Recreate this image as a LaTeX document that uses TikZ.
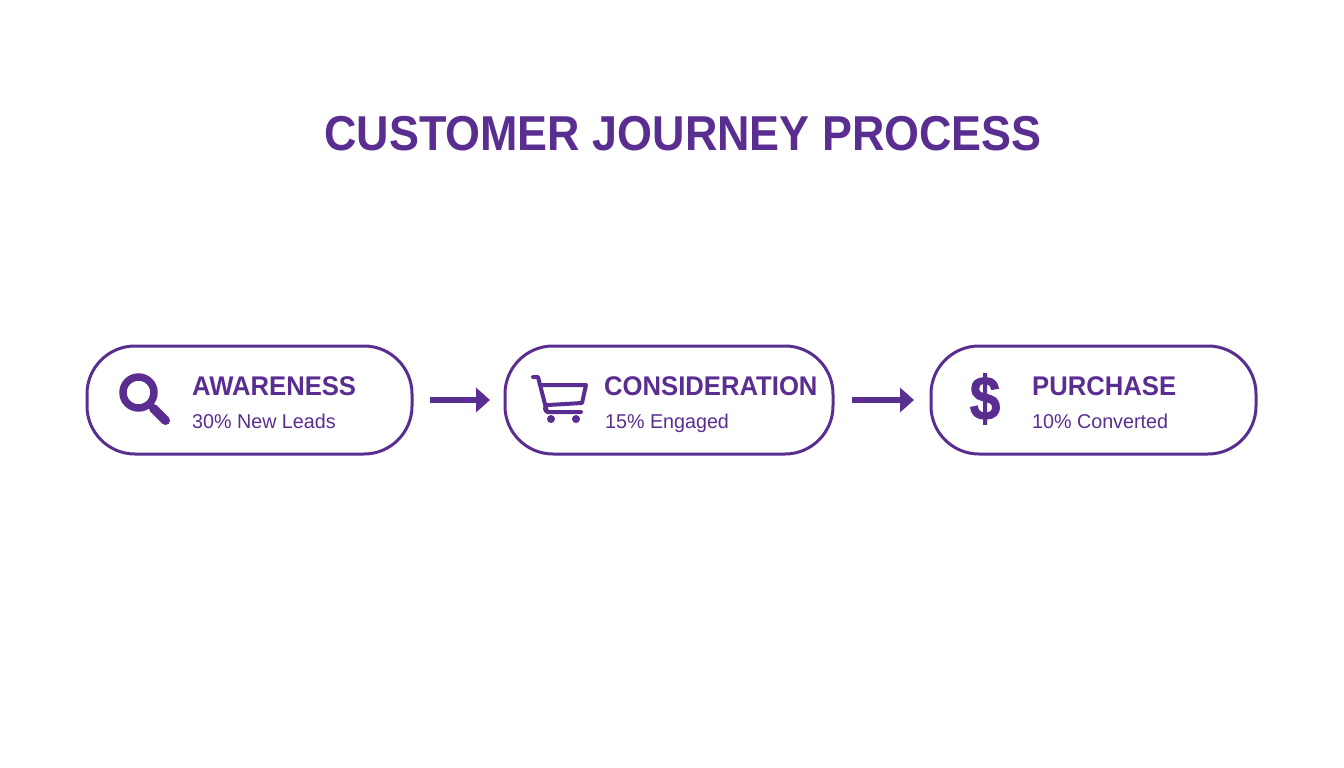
\documentclass[tikz,border=0pt]{standalone}
\usepackage{fontspec}
\setmainfont{Liberation Sans}
\newfontfamily\titlefont[FakeStretch=0.916]{Liberation Sans}
\newfontfamily\namefont[FakeStretch=0.95]{Liberation Sans}
\newfontfamily\ratefont[FakeStretch=0.985]{Liberation Sans}
\newfontfamily\dollarfont[FakeBold=1.5, FakeStretch=0.88]{Liberation Sans Bold}
\usepackage{xcolor}
\usetikzlibrary{positioning,arrows.meta}
\definecolor{journeypurple}{HTML}{5A2D91}
\tikzset{
  stagebox/.style={draw=journeypurple, line width=3pt, rounded corners=48pt, minimum width=325pt, minimum height=108pt, outer sep=0pt},
  stagename/.style={anchor=base west, inner sep=0pt, text=journeypurple, font=\fontsize{27}{27}\namefont\bfseries},
  stagerate/.style={anchor=base west, inner sep=0pt, text=journeypurple, font=\fontsize{20}{20}\ratefont},
  flowarrow/.style={draw=journeypurple, line width=6pt, -{Triangle[length=14pt,width=24pt]}},
  iconline/.style={draw=journeypurple, line cap=round, line join=round}
}
\begin{document}
\begin{tikzpicture}[x=1pt, y=-1pt]
	\useasboundingbox (0,0) rectangle (1344,768);
	\node [anchor=base, inner sep=0pt, text=journeypurple, font=\fontsize{49}{49}\titlefont\bfseries] (title) at (683,150) {CUSTOMER JOURNEY PROCESS};
	% the three stages
	\node [stagebox] (awareness) at (249.5,400) {};
	\node [stagebox, minimum width=328pt] (consideration) at (669,400) {};
	\node [stagebox] (purchase) at (1093.5,400) {};
	\draw [flowarrow, shorten <=18pt, shorten >=15pt] (awareness) -- (consideration);
	\draw [flowarrow, shorten <=19pt, shorten >=17pt] (consideration) -- (purchase);
	\node [stagename] (awarenessname) at (192,395) {AWARENESS};
	\node [stagerate] (awarenessrate) at (192,428) {30\% New Leads};
	\node [stagename] (considerationname) at (604,395) {CONSIDERATION};
	\node [stagerate] (considerationrate) at (605,428) {15\% Engaged};
	\node [stagename] (purchasename) at (1032,395) {PURCHASE};
	\node [stagerate] (purchaserate) at (1032,428) {10\% Converted};
	% magnifier
	\draw [iconline, line width=7.5pt] (138.5,392.5) circle (15.5);
	\draw [iconline, line width=9pt] (153.5,408.5) -- (165.5,420.5);
	% cart
	\draw [iconline, line width=4pt] (533,377) -- (538,377) -- (547,412) -- (581,412);
	\draw [iconline, line width=4pt] (541,385) -- (586,385) -- (582,403) -- (548,405);
	\draw [iconline, line width=4pt] (548,405) .. controls (544,406) and (544,411) .. (548,412);
	\fill [journeypurple] (551,419) circle (4);
	\fill [journeypurple] (576,419) circle (4);
	% dollar sign
	\node [inner sep=0pt, text=journeypurple, font=\fontsize{62}{62}\dollarfont] (dollar) at (985,399) {\$};
\end{tikzpicture}
\end{document}
